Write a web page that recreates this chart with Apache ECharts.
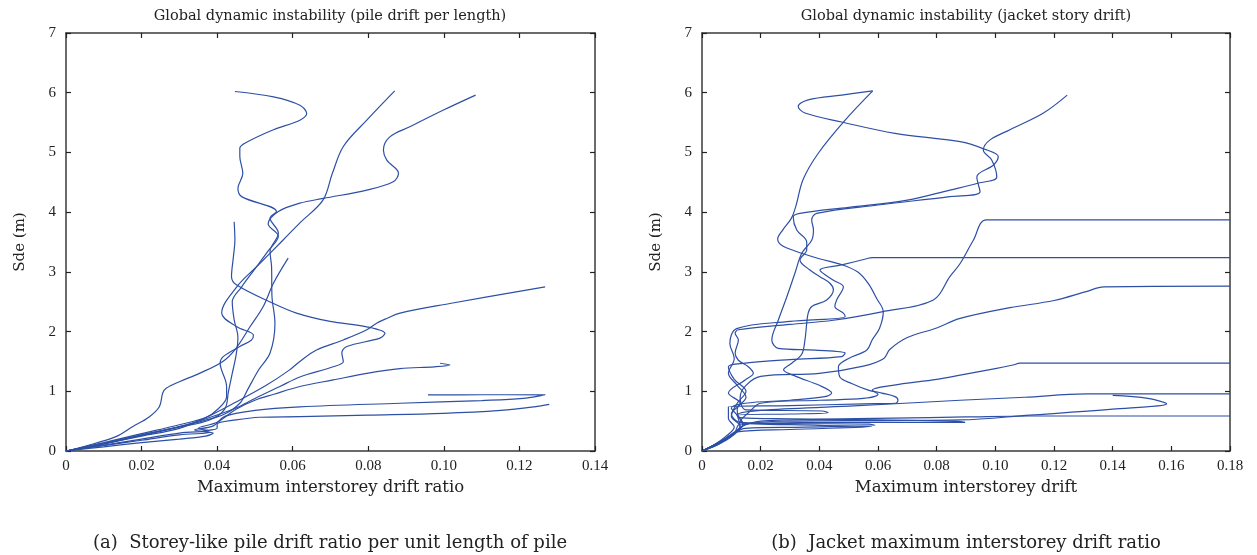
<!DOCTYPE html>
<html><head><meta charset="utf-8">
<script src="https://cdn.jsdelivr.net/npm/echarts@6/dist/echarts.min.js"></script>
<style>html,body{margin:0;padding:0;background:#fff}#c{width:1257px;height:555px}</style>
</head><body><div id="c"></div>
<script>
// ---- Panel (a): pile drift per length, curves as [drift, Sde] ----
const pile1 = [[0,0],[0.008,0.1],[0.018,0.24],[0.028,0.38],[0.036,0.5],[0.042,0.62],[0.046,0.8],[0.048,1.02],[0.051,1.36],[0.054,1.64],[0.0553,2.14],[0.0545,2.6],[0.0544,3.09],[0.054,3.34],[0.0562,3.65],[0.054,3.9],[0.0557,4.01],[0.0465,4.26],[0.0455,4.4],[0.0468,4.65],[0.046,4.93],[0.046,5.07],[0.0478,5.17],[0.0549,5.38],[0.0619,5.54],[0.0637,5.65],[0.0619,5.79],[0.0549,5.93],[0.0447,6.02]];
const pile2 = [[0,0],[0.01,0.14],[0.02,0.29],[0.03,0.44],[0.037,0.56],[0.04,0.69],[0.0425,0.91],[0.0425,1.08],[0.0408,1.47],[0.0416,1.58],[0.046,1.75],[0.0491,1.86],[0.0496,1.94],[0.0452,2.08],[0.0412,2.31],[0.0452,2.75],[0.0505,3.09],[0.0574,3.53],[0.0619,3.82],[0.068,4.2],[0.0705,4.65],[0.0734,5.1],[0.0796,5.54],[0.087,6.03]];
const pile3 = [[0,0],[0.01,0.12],[0.02,0.26],[0.03,0.4],[0.038,0.52],[0.042,0.7],[0.043,1.0],[0.044,1.3],[0.045,1.6],[0.0455,1.9],[0.0445,2.2],[0.044,2.5],[0.0465,2.75],[0.05,3.05],[0.0535,3.35],[0.0562,3.6],[0.0535,3.8],[0.0562,4.01],[0.0619,4.15],[0.0681,4.23],[0.0796,4.37],[0.0866,4.51],[0.088,4.65],[0.0849,4.87],[0.084,5.04],[0.0857,5.26],[0.091,5.43],[0.0999,5.71],[0.1084,5.96]];
const pile4 = [[0,0],[0.01,0.13],[0.02,0.27],[0.03,0.41],[0.037,0.54],[0.045,0.72],[0.05,0.88],[0.0566,1.08],[0.0619,1.24],[0.0707,1.41],[0.0734,1.5],[0.073,1.64],[0.0743,1.75],[0.0831,1.89],[0.0844,1.97],[0.0796,2.08],[0.0699,2.17],[0.061,2.31],[0.0549,2.47],[0.0452,2.78],[0.0438,2.92],[0.0443,3.25],[0.0447,3.53],[0.0445,3.84]];
const pile5 = [[0,0],[0.005,0.08],[0.0132,0.24],[0.0177,0.41],[0.022,0.57],[0.0247,0.74],[0.0256,0.97],[0.0265,1.05],[0.03,1.16],[0.0353,1.3],[0.0415,1.5],[0.045,1.72],[0.0487,2.08],[0.0522,2.42],[0.0549,2.81],[0.0588,3.23]];
const pile6 = [[0,0],[0.01,0.12],[0.02,0.25],[0.03,0.38],[0.037,0.56],[0.045,0.82],[0.053,1.1],[0.059,1.35],[0.0619,1.5],[0.0663,1.69],[0.0734,1.86],[0.0796,2.03],[0.0822,2.14],[0.0849,2.22],[0.0884,2.31],[0.1016,2.47],[0.1268,2.75]];
const pile7 = [[0,0],[0.01,0.1],[0.02,0.2],[0.03,0.3],[0.038,0.34],[0.035,0.38],[0.04,0.48],[0.045,0.7],[0.05,0.85],[0.055,0.95],[0.0619,1.08],[0.0707,1.19],[0.0796,1.3],[0.0884,1.38],[0.0975,1.41],[0.1016,1.44],[0.099,1.47]];
const pile8 = [[0,0],[0.01,0.07],[0.02,0.14],[0.03,0.2],[0.037,0.25],[0.039,0.3],[0.036,0.33],[0.04,0.38],[0.04,0.45],[0.045,0.52],[0.0513,0.565],[0.0619,0.575],[0.08,0.6],[0.0999,0.63],[0.115,0.68],[0.124,0.74],[0.1279,0.78]];
const pile9 = [[0,0],[0.01,0.09],[0.02,0.18],[0.03,0.27],[0.038,0.31],[0.034,0.35],[0.039,0.42],[0.042,0.58],[0.05,0.68],[0.0619,0.74],[0.0884,0.8],[0.11,0.845],[0.121,0.88],[0.1268,0.94],[0.11,0.942],[0.0958,0.94]];

// ---- Panel (b): jacket story drift, curves as [drift, Sde] ----
const jacket1 = [[0,0],[0.004,0.1],[0.008,0.24],[0.011,0.4],[0.009,0.55],[0.009,0.74],[0.03,0.76],[0.055,0.79],[0.066,0.8],[0.0668,0.85],[0.0658,0.91],[0.0613,0.97],[0.0567,1.02],[0.051,1.13],[0.047,1.24],[0.0465,1.41],[0.05,1.55],[0.0562,1.69],[0.058,1.86],[0.0605,2.05],[0.0618,2.33],[0.0596,2.55],[0.0566,2.81],[0.053,3.0],[0.0476,3.12],[0.04,3.22],[0.0317,3.35],[0.027,3.45],[0.0258,3.55],[0.0275,3.7],[0.0305,3.9],[0.032,4.1],[0.0345,4.55],[0.0397,4.99],[0.0488,5.54],[0.0582,6.03]];
const jacket2 = [[0,0],[0.005,0.12],[0.01,0.26],[0.013,0.42],[0.01,0.58],[0.012,0.8],[0.015,1.0],[0.011,1.2],[0.009,1.41],[0.0147,1.47],[0.03,1.53],[0.0476,1.58],[0.0488,1.64],[0.0385,1.69],[0.026,1.72],[0.0238,1.86],[0.026,2.19],[0.0289,2.58],[0.0317,2.98],[0.034,3.31],[0.0374,3.53],[0.038,3.7],[0.0374,3.87],[0.0391,3.98],[0.06,4.12],[0.0845,4.26],[0.0948,4.34],[0.0937,4.59],[0.0994,4.79],[0.101,4.93],[0.096,5.06],[0.088,5.18],[0.0658,5.32],[0.0476,5.51],[0.0351,5.66],[0.0328,5.77],[0.0362,5.88],[0.0476,5.96],[0.0582,6.03]];
const jacket3 = [[0,0],[0.006,0.14],[0.011,0.3],[0.014,0.45],[0.012,0.6],[0.01,0.72],[0.0147,0.8],[0.03,0.85],[0.0419,0.91],[0.0442,0.97],[0.04,1.1],[0.032,1.25],[0.0278,1.36],[0.0306,1.47],[0.034,1.62],[0.0351,1.86],[0.0357,2.14],[0.0362,2.31],[0.0374,2.42],[0.0425,2.53],[0.0448,2.7],[0.0436,2.81],[0.0402,2.92],[0.0368,3.03],[0.0334,3.2],[0.0357,3.37],[0.0357,3.5],[0.0323,3.7],[0.0311,3.92],[0.0334,3.98],[0.05,4.08],[0.07,4.2],[0.0845,4.37],[0.0937,4.48],[0.1005,4.59],[0.0988,4.87],[0.0959,5.04],[0.0982,5.21],[0.105,5.38],[0.1164,5.66],[0.1245,5.96]];
const jacket4 = [[0,0],[0.005,0.12],[0.01,0.27],[0.0147,0.38],[0.035,0.4],[0.059,0.43],[0.057,0.45],[0.03,0.46],[0.013,0.48],[0.01,0.62],[0.013,0.8],[0.009,0.97],[0.0147,1.19],[0.0175,1.3],[0.0158,1.41],[0.0124,1.52],[0.0113,1.64],[0.0124,1.86],[0.0113,1.97],[0.0124,2.03],[0.03,2.12],[0.0448,2.19],[0.0613,2.33],[0.0789,2.53],[0.0845,2.92],[0.088,3.14],[0.0925,3.53],[0.097,3.87],[0.18,3.87]];
const jacket5 = [[0,0],[0.006,0.15],[0.011,0.3],[0.013,0.45],[0.05,0.48],[0.0897,0.48],[0.086,0.5],[0.06,0.52],[0.03,0.54],[0.013,0.56],[0.012,0.7],[0.015,0.9],[0.012,1.1],[0.009,1.3],[0.011,1.55],[0.0095,1.8],[0.0118,2.05],[0.03,2.17],[0.0488,2.25],[0.0482,2.31],[0.0453,2.42],[0.0459,2.53],[0.0482,2.75],[0.0448,2.86],[0.0402,3.03],[0.048,3.12],[0.0561,3.22],[0.058,3.24],[0.18,3.24]];
const jacket6 = [[0,0],[0.005,0.1],[0.01,0.24],[0.013,0.4],[0.012,0.6],[0.03,0.62],[0.043,0.64],[0.041,0.67],[0.015,0.69],[0.013,0.9],[0.015,1.1],[0.02,1.25],[0.04,1.3],[0.055,1.42],[0.062,1.55],[0.064,1.7],[0.07,1.9],[0.08,2.06],[0.088,2.22],[0.105,2.4],[0.12,2.52],[0.131,2.67],[0.137,2.75],[0.18,2.76]];
const jacket7 = [[0,0],[0.006,0.12],[0.012,0.32],[0.03,0.36],[0.058,0.41],[0.04,0.43],[0.013,0.5],[0.016,0.65],[0.02,0.8],[0.04,0.85],[0.055,0.88],[0.06,0.95],[0.058,1.02],[0.065,1.1],[0.08,1.2],[0.088,1.27],[0.1,1.38],[0.106,1.44],[0.1084,1.47],[0.18,1.47]];
const jacket8 = [[0,0],[0.005,0.12],[0.01,0.28],[0.014,0.45],[0.012,0.6],[0.02,0.68],[0.05,0.75],[0.088,0.85],[0.11,0.9],[0.131,0.955],[0.18,0.955]];
const jacket9 = [[0,0],[0.006,0.14],[0.011,0.3],[0.015,0.45],[0.03,0.5],[0.06,0.51],[0.088,0.52],[0.1118,0.6],[0.14,0.7],[0.1584,0.79],[0.152,0.88],[0.14,0.93]];
const jacket10 = [[0,0],[0.005,0.1],[0.01,0.25],[0.014,0.42],[0.02,0.5],[0.04,0.53],[0.065,0.55],[0.09,0.57],[0.1118,0.586],[0.18,0.586]];

const pileCurves = [pile1,pile2,pile3,pile4,pile5,pile6,pile7,pile8,pile9];
const jacketCurves = [jacket1,jacket2,jacket3,jacket4,jacket5,jacket6,jacket7,jacket8,jacket9,jacket10];

const titles = ['Global dynamic instability (pile drift per length)','Global dynamic instability (jacket story drift)'];
const xNames = ['Maximum interstorey drift ratio','Maximum interstorey drift'];
const yName = 'Sde (m)';
const captions = ['(a)  Storey-like pile drift ratio per unit length of pile','(b)  Jacket maximum interstorey drift ratio'];
const xMax = [0.14, 0.18];

const SERIF = "'Liberation Serif','DejaVu Serif',serif";
const WIDE = "'DejaVu Serif','Liberation Serif',serif";
const LINE = '#2d4fa5';
const AX = '#3a3a3a';

const grids = [{left:66, top:33, width:529, height:418},{left:702, top:33, width:528, height:418}];
const xAxes = [], yAxes = [];
grids.forEach((g,i)=>{
  const base = {type:'value', gridIndex:i, min:0, max:xMax[i], interval:0.02,
    axisLine:{show:true, onZero:false, lineStyle:{color:AX,width:1.5}},
    axisTick:{show:true, inside:true, length:5, lineStyle:{color:'#222',width:1.2}},
    splitLine:{show:false}};
  xAxes.push(Object.assign({}, base, {position:'bottom', name:xNames[i], nameLocation:'middle', nameGap:22,
    nameTextStyle:{fontFamily:WIDE,fontSize:16.5,color:'#222'},
    axisLabel:{fontFamily:SERIF,fontSize:15,color:'#222',margin:8, formatter:v=> v===0?'0':v.toFixed(2)}}));
  xAxes.push(Object.assign({}, base, {position:'top', axisLabel:{show:false}}));
  const ybase = {type:'value', gridIndex:i, min:0, max:7, interval:1,
    axisLine:{show:true, onZero:false, lineStyle:{color:AX,width:1.5}},
    axisTick:{show:true, inside:true, length:5, lineStyle:{color:'#222',width:1.2}},
    splitLine:{show:false}};
  yAxes.push(Object.assign({}, ybase, {position:'left', name:yName, nameLocation:'middle', nameGap:38,
    nameTextStyle:{fontFamily:WIDE,fontSize:15,color:'#222'},
    axisLabel:{fontFamily:SERIF,fontSize:15,color:'#222',margin:10}}));
  yAxes.push(Object.assign({}, ybase, {position:'right', axisLabel:{show:false}}));
});

const series = [];
pileCurves.forEach(c=>series.push({type:'line', xAxisIndex:0, yAxisIndex:0, data:c, showSymbol:false, smooth:0.35, lineStyle:{color:LINE,width:1.2}}));
jacketCurves.forEach(c=>series.push({type:'line', xAxisIndex:2, yAxisIndex:2, data:c, showSymbol:false, smooth:0.35, lineStyle:{color:LINE,width:1.2}}));

const centers = [330, 966];
const graphic = [];
centers.forEach((cx,i)=>{
  graphic.push({type:'text', style:{text:titles[i], x:cx, y:16, textAlign:'center', textVerticalAlign:'middle', font:'14.5px '+WIDE, fill:'#222'}});
  graphic.push({type:'text', style:{text:captions[i], x:cx, y:543, textAlign:'center', textVerticalAlign:'middle', font:'18px '+WIDE, fill:'#222'}});
});

const chart = echarts.init(document.getElementById('c'), null, {renderer:'canvas'});
chart.setOption({animation:false, backgroundColor:'#fff', grid:grids, xAxis:xAxes, yAxis:yAxes, series, graphic});
</script></body></html>
